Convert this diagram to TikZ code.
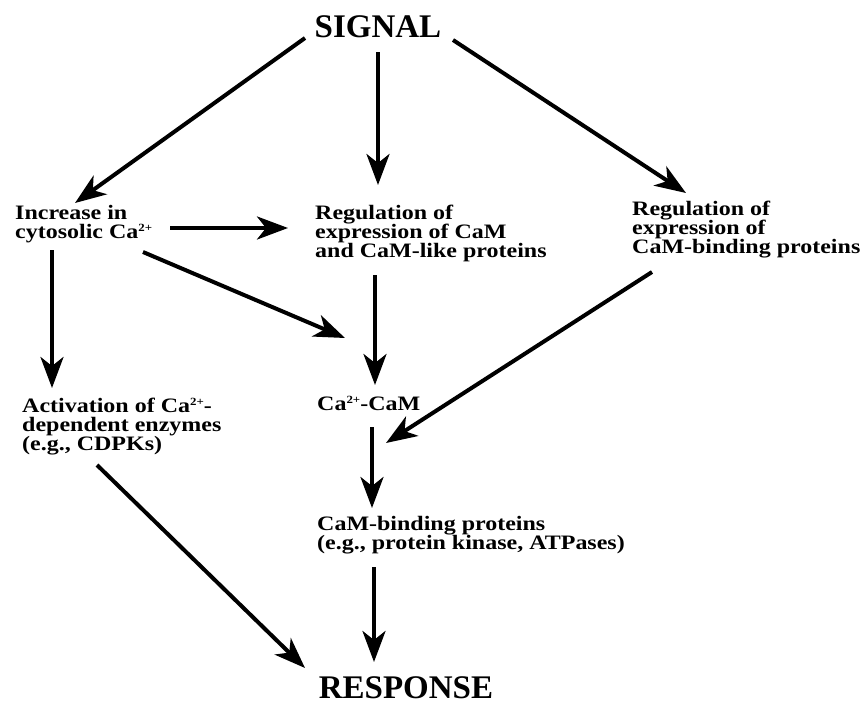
\documentclass[tikz,border=0pt]{standalone}
\usepackage{fontspec}
\usetikzlibrary{arrows.meta}
\newfontfamily\bigfont{Liberation Serif Bold}
\newfontfamily\lblfont[FakeStretch=1.17]{Liberation Serif Bold}
\newcommand\sups[1]{\raisebox{6.5pt}{\fontsize{11}{11}\selectfont#1}}
\tikzset{
  arr/.style={line width=4pt,-{Stealth[length=31pt,width=23pt,inset=9pt]}},
  big/.style={inner sep=0pt,anchor=base,font={\bigfont\fontsize{33}{36}\selectfont}},
  lbl/.style={inner sep=0pt,anchor=north west,align=left,font={\lblfont\fontsize{20.5}{19}\selectfont}}
}
\newcommand\fl{\rule{0pt}{15pt}}
\begin{document}
\begin{tikzpicture}[x=1pt,y=-1pt]
\useasboundingbox (0,0) rectangle (861,704);
\node[big] (sig) at (378,37) {SIGNAL};
\node[big] (resp) at (406,698) {RESPONSE};
\node[lbl] (inc) at (15,204) {\fl Increase in\\cytosolic Ca\sups{2+}};
\node[lbl] (regcam) at (315,204) {\fl Regulation of\\expression of CaM\\and CaM-like proteins};
\node[lbl] (regbind) at (632,200) {\fl Regulation of\\expression of\\CaM-binding proteins};
\node[lbl] (act) at (22,397) {\fl Activation of Ca\sups{2+}-\\dependent enzymes\\(e.g., CDPKs)};
\node[lbl] (cacam) at (317,395) {\fl Ca\sups{2+}-CaM};
\node[lbl] (bind) at (317,515) {\fl CaM-binding proteins\\(e.g., protein kinase, ATPases)};
\draw[arr] ([shift={(-73,1)}]sig.base) -- ([shift={(60,-1)}]inc.north west);
\draw[arr] ([shift={(0,15)}]sig.base) -- ([shift={(63,-19)}]regcam.north west);
\draw[arr] ([shift={(75,3)}]sig.base) -- ([shift={(54,-7)}]regbind.north west);
\draw[arr] ([shift={(155,24)}]inc.north west) -- ([shift={(-27,24)}]regcam.north west);
\draw[arr] ([shift={(128,48)}]inc.north west) -- ([shift={(28,-57)}]cacam.north west);
\draw[arr] ([shift={(60,71)}]regcam.north west) -- ([shift={(58,-10)}]cacam.north west);
\draw[arr] ([shift={(37,46)}]inc.north west) -- ([shift={(30,-9)}]act.north west);
\draw[arr] ([shift={(20,72)}]regbind.north west) -- ([shift={(69,48)}]cacam.north west);
\draw[arr] ([shift={(55,32)}]cacam.north west) -- ([shift={(55,-7)}]bind.north west);
\draw[arr] ([shift={(57,52)}]bind.north west) -- ([shift={(-32,-36)}]resp.base);
\draw[arr] ([shift={(75,68)}]act.north west) -- ([shift={(-101,-30)}]resp.base);
\end{tikzpicture}
\end{document}
